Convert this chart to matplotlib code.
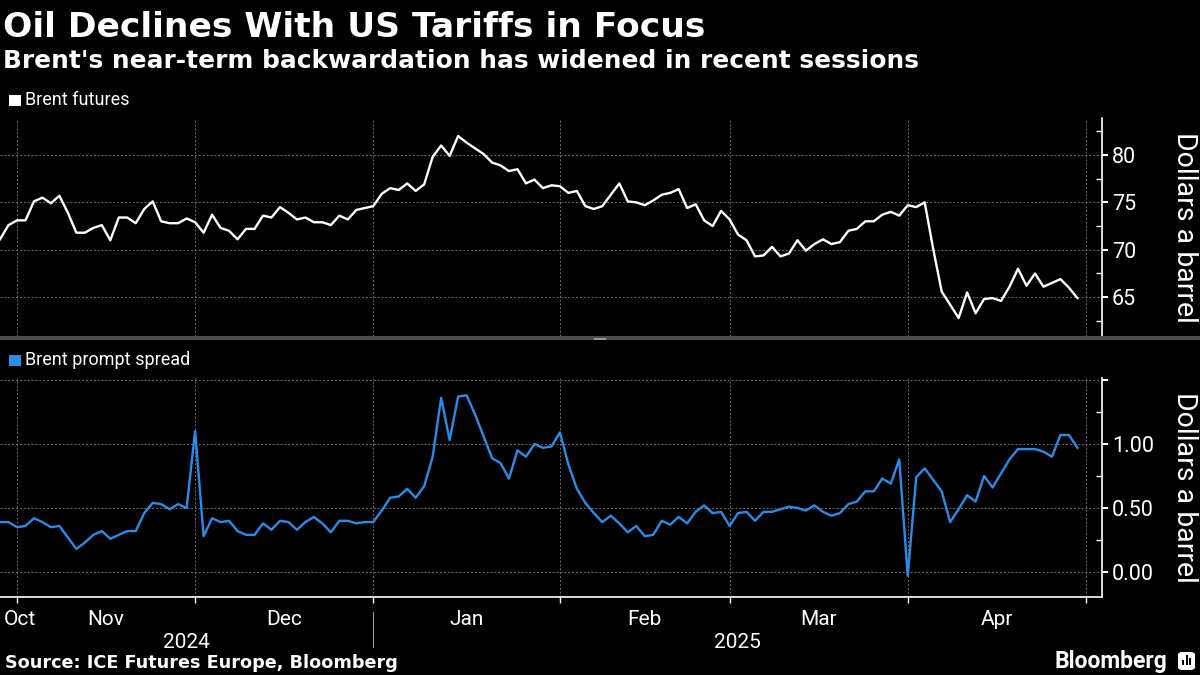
import matplotlib
matplotlib.use('Agg')
import matplotlib.pyplot as plt
import matplotlib.transforms as mtransforms
from matplotlib import font_manager
from matplotlib.patches import Rectangle, FancyBboxPatch
import pandas as pd

# trading days shown on the chart (ICE Brent)
holidays = ['2024-12-25', '2025-01-01', '2025-04-18']
dates = pd.bdate_range('2024-10-29', '2025-04-29')
dates = dates[~dates.isin(pd.to_datetime(holidays))]

brent = [71.1, 72.6, 73.1, 73.1, 75.1, 75.5, 74.9, 75.7, 73.9, 71.8,
         71.8, 72.3, 72.6, 71.0, 73.4, 73.4, 72.8, 74.3, 75.1, 73.0,
         72.8, 72.8, 73.3, 72.9, 71.8, 73.7, 72.3, 72.0, 71.1, 72.2,
         72.2, 73.6, 73.4, 74.5, 73.9, 73.2, 73.4, 72.9, 72.9, 72.6,
         73.6, 73.2, 74.2, 74.4, 74.6, 75.9, 76.5, 76.3, 77.0, 76.2,
         76.9, 79.8, 81.0, 79.9, 82.0, 81.3, 80.7, 80.1, 79.2, 78.9,
         78.3, 78.5, 77.0, 77.4, 76.5, 76.8, 76.7, 76.0, 76.2, 74.6,
         74.3, 74.6, 75.8, 77.0, 75.1, 75.0, 74.7, 75.2, 75.8, 76.0,
         76.4, 74.4, 74.8, 73.1, 72.5, 74.1, 73.2, 71.6, 71.0, 69.3,
         69.4, 70.3, 69.3, 69.6, 71.0, 69.9, 70.6, 71.1, 70.6, 70.8,
         72.0, 72.2, 73.0, 73.0, 73.7, 74.0, 73.6, 74.7, 74.5, 75.0,
         70.1, 65.6, 64.2, 62.8, 65.5, 63.3, 64.8, 64.9, 64.6, 66.1,
         68.0, 66.2, 67.5, 66.1, 66.5, 66.9, 66.0, 64.9]

spread = [0.39, 0.39, 0.35, 0.36, 0.42, 0.39, 0.35, 0.36, 0.27, 0.18,
          0.23, 0.29, 0.32, 0.26, 0.29, 0.32, 0.32, 0.46, 0.54, 0.53,
          0.49, 0.53, 0.50, 1.10, 0.28, 0.42, 0.39, 0.40, 0.32, 0.29,
          0.29, 0.38, 0.33, 0.40, 0.39, 0.33, 0.39, 0.43, 0.38, 0.31,
          0.40, 0.40, 0.38, 0.39, 0.39, 0.48, 0.58, 0.59, 0.65, 0.58,
          0.67, 0.90, 1.36, 1.03, 1.37, 1.38, 1.23, 1.06, 0.89, 0.85,
          0.73, 0.95, 0.90, 1.00, 0.97, 0.98, 1.09, 0.84, 0.65, 0.54,
          0.46, 0.39, 0.44, 0.38, 0.31, 0.36, 0.28, 0.29, 0.40, 0.37,
          0.43, 0.38, 0.47, 0.52, 0.46, 0.47, 0.36, 0.46, 0.47, 0.40,
          0.47, 0.47, 0.49, 0.51, 0.50, 0.48, 0.52, 0.47, 0.44, 0.46,
          0.53, 0.55, 0.63, 0.63, 0.73, 0.69, 0.88, -0.03, 0.74, 0.81,
          0.72, 0.63, 0.39, 0.49, 0.60, 0.55, 0.75, 0.66, 0.77, 0.88,
          0.96, 0.96, 0.96, 0.94, 0.90, 1.07, 1.07, 0.97]

brent_ticks = [65, 70, 75, 80]
spread_ticks = [0.0, 0.5, 1.0, 1.5]
spread_labels = ['0.00', '0.50', '1.00', '']

BG = 'black'
FG = 'white'
BLUE = '#2b8ce8'
GRID = '#707070'

installed = {f.name for f in font_manager.fontManager.ttflist}
narrow = 'Liberation Sans Narrow' if 'Liberation Sans Narrow' in installed else 'Roboto'
plt.rcParams['font.family'] = [narrow, 'DejaVu Sans']

W, H = 1200, 675


def fx(px):
    return px / W


def fy(py):
    return 1 - py / H


fig = plt.figure(figsize=(12, 6.75), dpi=100, facecolor=BG)
ax1 = fig.add_axes([0, fy(336), fx(1102), (336 - 118) / H])
ax2 = fig.add_axes([0, fy(597), fx(1102), (597 - 378) / H])

x = list(range(len(dates)))
ax1.plot(x, brent, color=FG, lw=1.7, zorder=3)
ax2.plot(x, spread, color=BLUE, lw=1.7, zorder=3)

# month boundaries sit on the last trading day of each month
month_ends = [i - 1 for i in range(1, len(dates)) if dates[i].month != dates[i - 1].month]
bounds = month_ends + [len(dates)]
xmax = 129.9

for ax in (ax1, ax2):
    ax.set_facecolor(BG)
    ax.set_xlim(0, xmax)
    ax.set_xticks(bounds)
    ax.set_xticklabels([])
    ax.grid(True, color=GRID, lw=0.7, ls=(0, (2, 2)))
    for s in ('left', 'top', 'bottom'):
        ax.spines[s].set_visible(False)
    ax.spines['right'].set_color(FG)
    ax.spines['right'].set_linewidth(1.2)
    ax.yaxis.tick_right()
    ax.tick_params(axis='y', which='major', colors=FG, labelsize=15.5,
                   direction='out', length=4, width=1.5, pad=3)
    ax.tick_params(axis='y', which='minor', colors=FG, direction='in',
                   length=4, width=1)

ax1.set_ylim(60.9, 83.9)
ax1.set_yticks(brent_ticks)
ax1.set_yticks([62.5, 67.5, 72.5, 77.5, 82.5], minor=True)
ax1.tick_params(axis='x', length=0)

ax2.set_ylim(-0.195, 1.515)
ax2.set_yticks(spread_ticks)
ax2.set_yticklabels(spread_labels)
ax2.set_yticks([0.25, 0.75, 1.25], minor=True)
ax2.spines['bottom'].set_visible(True)
ax2.spines['bottom'].set_color(FG)
ax2.spines['bottom'].set_linewidth(1.2)
ax2.tick_params(axis='x', colors=FG, direction='out', length=4, width=1)

for ax in (ax1, ax2):
    ax.text(1.0753, 0.5, 'Dollars a barrel', transform=ax.transAxes,
            rotation=270, ha='center', va='center', color=FG, fontsize=20.5)

# month and year labels
trans = mtransforms.blended_transform_factory(ax2.transData, ax2.transAxes)
edges = [0] + bounds
for i in range(len(edges) - 1):
    if i == 0:
        ax2.text(0.45, -0.06, dates[0].strftime('%b'), transform=trans,
                 ha='left', va='top', color=FG, fontsize=15)
    else:
        name = dates[edges[i] + 1].strftime('%b')
        ax2.text((edges[i] + edges[i + 1]) / 2, -0.06, name, transform=trans,
                 ha='center', va='top', color=FG, fontsize=15)

year_split = [b for b in month_ends if dates[b].month == 12][0]
ax2.text(year_split / 2, -0.165, '2024', transform=trans, ha='center', va='top',
         color=FG, fontsize=15)
ax2.text((year_split + xmax) / 2, -0.165, '2025', transform=trans, ha='center',
         va='top', color=FG, fontsize=15)
ax2.plot([year_split, year_split], [-0.07, -0.23], transform=trans,
         color='#9a9a9a', lw=0.8, clip_on=False)

# panel separator
fig.patches.append(Rectangle((0, fy(340)), 1, 4 / H, transform=fig.transFigure,
                             facecolor='#4d4d4d', edgecolor='none'))
fig.patches.append(Rectangle((fx(594), fy(339.5)), 12 / W, 2 / H,
                             transform=fig.transFigure, facecolor='#9a9a9a',
                             edgecolor='none'))

# legends
fig.patches.append(Rectangle((fx(9), fy(106)), 12 / W, 11 / H,
                             transform=fig.transFigure, facecolor=FG))
fig.text(fx(25), fy(100), 'Brent futures', color=FG, fontsize=13, va='center')
fig.patches.append(Rectangle((fx(9), fy(366)), 12 / W, 11 / H,
                             transform=fig.transFigure, facecolor=BLUE))
fig.text(fx(25), fy(360), 'Brent prompt spread', color=FG, fontsize=13, va='center')

# titles and footer
fig.text(fx(3), fy(37), 'Oil Declines With US Tariffs in Focus', color=FG,
         fontsize=24.8, fontweight='bold', family='DejaVu Sans', va='baseline')
fig.text(fx(3), fy(68), "Brent's near-term backwardation has widened in recent sessions",
         color=FG, fontsize=17.9, fontweight='bold', family='DejaVu Sans',
         va='baseline')
fig.text(fx(5), fy(668), 'Source: ICE Futures Europe, Bloomberg', color=FG,
         fontsize=12.7, fontweight='bold', family='DejaVu Sans', va='baseline')
fig.text(fx(1167), fy(668), 'Bloomberg', color=FG, fontsize=16.5,
         fontweight='bold', family='Roboto', ha='right', va='baseline')
fig.patches.append(FancyBboxPatch((fx(1178), fy(670)), 17 / W, 18 / H,
                                  boxstyle='round,pad=0,rounding_size=0.004',
                                  transform=fig.transFigure, facecolor=FG,
                                  edgecolor='none'))
for bx, bh in ((1182, 5), (1185.5, 10), (1189, 7)):
    fig.patches.append(Rectangle((fx(bx), fy(665)), 2 / W, bh / H,
                                 transform=fig.transFigure, facecolor=BG,
                                 edgecolor='none'))

fig.savefig('out.png', dpi=100, facecolor=BG)
